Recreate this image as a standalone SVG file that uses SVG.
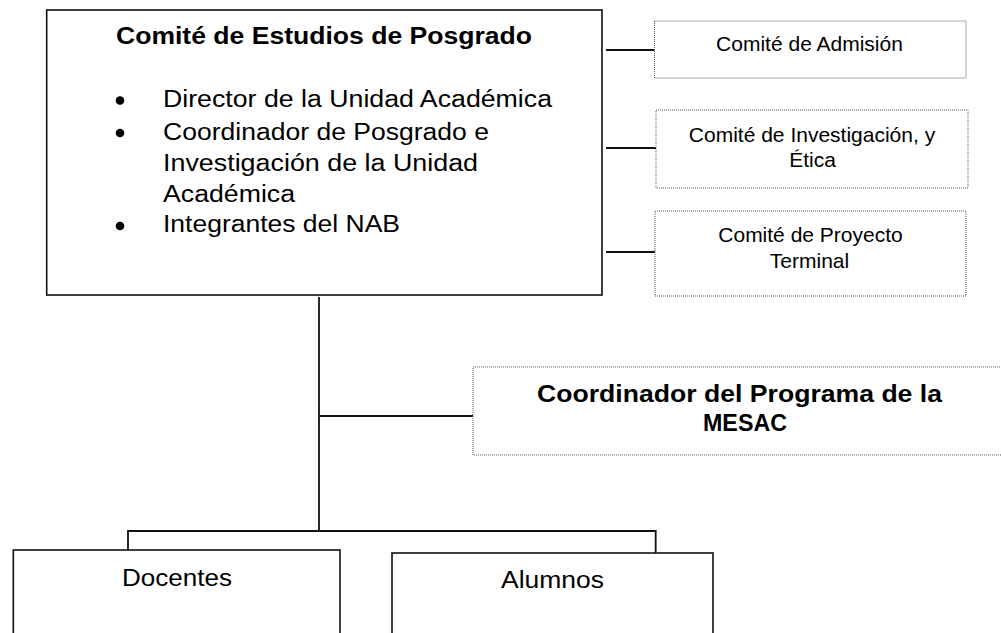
<svg xmlns="http://www.w3.org/2000/svg" width="1001" height="633" viewBox="0 0 1001 633">
  <style>
    text { font-family: "Liberation Sans", Arial, sans-serif; fill: #000; }
    .solid { fill: #fff; stroke: #111; stroke-width: 1.6; }
    .dotted { fill: #fff; stroke: #555; stroke-width: 1; stroke-dasharray: 1 1; }
    .conn { stroke: #111; stroke-width: 1.8; fill: none; }
    .big { font-size: 23.5px; }
    .bold { font-weight: bold; }
    .small { font-size: 21px; text-anchor: middle; }
    .bul { fill: #000; }
  </style>

  <g id="connectors">
    <line class="conn" x1="606" y1="50" x2="655" y2="50"/>
    <line class="conn" x1="606" y1="148" x2="656" y2="148"/>
    <line class="conn" x1="606" y1="252" x2="655" y2="252"/>
    <line class="conn" x1="319" y1="297" x2="319" y2="531"/>
    <line class="conn" x1="319" y1="416" x2="473" y2="416"/>
    <polyline class="conn" points="128,550 128,531 655.7,531 655.7,553"/>
  </g>

  <g id="comite-estudios">
    <rect class="solid" x="46.7" y="10" width="555.3" height="285"/>
    <text class="big bold" x="116" y="44" textLength="416" lengthAdjust="spacingAndGlyphs">Comité de Estudios de Posgrado</text>
    <circle class="bul" cx="120" cy="100.5" r="4.3"/>
    <text class="big" x="163" y="107" textLength="389" lengthAdjust="spacingAndGlyphs">Director de la Unidad Académica</text>
    <circle class="bul" cx="120" cy="133" r="4.3"/>
    <text class="big" x="163" y="139.5" textLength="326" lengthAdjust="spacingAndGlyphs">Coordinador de Posgrado e</text>
    <text class="big" x="163" y="170.5" textLength="315" lengthAdjust="spacingAndGlyphs">Investigación de la Unidad</text>
    <text class="big" x="163" y="201.5" textLength="132" lengthAdjust="spacingAndGlyphs">Académica</text>
    <circle class="bul" cx="120" cy="226" r="4.3"/>
    <text class="big" x="163" y="232" textLength="237" lengthAdjust="spacingAndGlyphs">Integrantes del NAB</text>
  </g>

  <g id="comite-admision">
    <rect class="dotted" x="654.5" y="21" width="311.5" height="57"/>
    <text class="small" x="809.5" y="51">Comité de Admisión</text>
  </g>

  <g id="comite-investigacion">
    <rect class="dotted" x="656" y="110" width="312" height="78"/>
    <text class="small" x="812" y="142">Comité de Investigación, y</text>
    <text class="small" x="812.5" y="166.5">Ética</text>
  </g>

  <g id="comite-proyecto">
    <rect class="dotted" x="655" y="211" width="311" height="85"/>
    <text class="small" x="810.5" y="241.5">Comité de Proyecto</text>
    <text class="small" x="809.5" y="268">Terminal</text>
  </g>

  <g id="coordinador-mesac">
    <rect class="dotted" x="473" y="367" width="532" height="88"/>
    <text class="big bold" x="537" y="401.5" textLength="405" lengthAdjust="spacingAndGlyphs">Coordinador del Programa de la</text>
    <text class="big bold" x="703" y="431" textLength="84" lengthAdjust="spacingAndGlyphs">MESAC</text>
  </g>

  <g id="docentes">
    <rect class="solid" x="13.3" y="550" width="326.7" height="100"/>
    <text class="big" x="122" y="585.5" textLength="110" lengthAdjust="spacingAndGlyphs">Docentes</text>
  </g>

  <g id="alumnos">
    <rect class="solid" x="392" y="553" width="321" height="100"/>
    <text class="big" x="501" y="587.5" textLength="103" lengthAdjust="spacingAndGlyphs">Alumnos</text>
  </g>
</svg>
